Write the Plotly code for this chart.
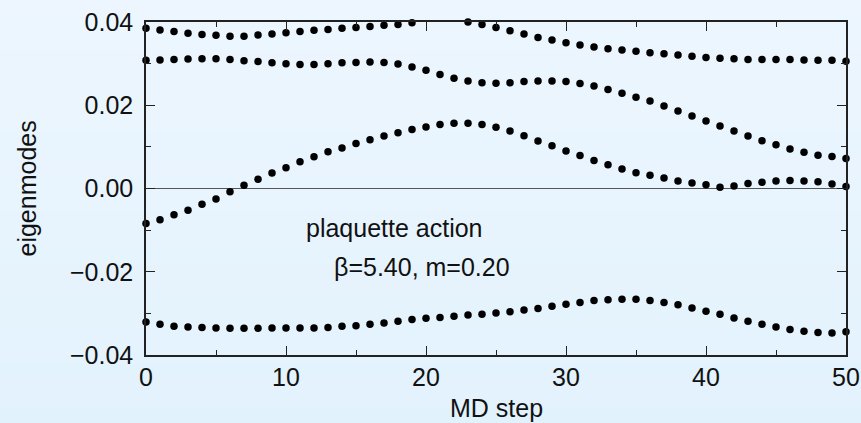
import plotly.graph_objects as go

# MD step index
md_step = list(range(51))

# Four lowest eigenmodes along the trajectory (None = above plotted range)
mode_1 = [0.0385, 0.0381, 0.0377, 0.0373, 0.0370, 0.0368, 0.0366, 0.0366, 0.0369, 0.0371,
          0.0374, 0.0377, 0.0380, 0.0382, 0.0385, 0.0387, 0.0389, 0.0392, 0.0394, 0.0398,
          None, None, None, 0.0400, 0.0394, 0.0387, 0.0379, 0.0371, 0.0363, 0.0357,
          0.0350, 0.0345, 0.0340, 0.0336, 0.0333, 0.0330, 0.0326, 0.0324, 0.0321, 0.0318,
          0.0315, 0.0313, 0.0312, 0.0310, 0.0310, 0.0310, 0.0310, 0.0309, 0.0308, 0.0308,
          0.0306]
mode_2 = [0.0308, 0.0309, 0.0310, 0.0311, 0.0312, 0.0312, 0.0310, 0.0307, 0.0305, 0.0302,
          0.0300, 0.0298, 0.0298, 0.0300, 0.0302, 0.0303, 0.0304, 0.0303, 0.0299, 0.0292,
          0.0284, 0.0274, 0.0265, 0.0258, 0.0254, 0.0253, 0.0254, 0.0257, 0.0258, 0.0258,
          0.0257, 0.0252, 0.0246, 0.0238, 0.0229, 0.0219, 0.0210, 0.0198, 0.0186, 0.0174,
          0.0162, 0.0150, 0.0138, 0.0126, 0.0115, 0.0105, 0.0095, 0.0087, 0.0080, 0.0077,
          0.0072]
mode_3 = [-0.0084, -0.0075, -0.0063, -0.0052, -0.0038, -0.0025, -0.0008, 0.0008, 0.0022, 0.0037,
          0.0050, 0.0064, 0.0076, 0.0088, 0.0097, 0.0108, 0.0117, 0.0126, 0.0134, 0.0142,
          0.0148, 0.0154, 0.0157, 0.0157, 0.0154, 0.0147, 0.0138, 0.0127, 0.0114, 0.0103,
          0.0090, 0.0079, 0.0067, 0.0057, 0.0047, 0.0038, 0.0032, 0.0025, 0.0018, 0.0013,
          0.0009, 0.0003, 0.0006, 0.0012, 0.0015, 0.0018, 0.0019, 0.0018, 0.0016, 0.0011,
          0.0005]
mode_4 = [-0.0321, -0.0326, -0.0331, -0.0333, -0.0334, -0.0335, -0.0336, -0.0336, -0.0336, -0.0335,
          -0.0335, -0.0335, -0.0335, -0.0334, -0.0331, -0.0330, -0.0326, -0.0323, -0.0319, -0.0315,
          -0.0312, -0.0310, -0.0307, -0.0304, -0.0302, -0.0299, -0.0296, -0.0292, -0.0288, -0.0283,
          -0.0278, -0.0274, -0.0269, -0.0267, -0.0266, -0.0266, -0.0269, -0.0274, -0.0279, -0.0287,
          -0.0295, -0.0302, -0.0311, -0.0319, -0.0326, -0.0333, -0.0339, -0.0343, -0.0346, -0.0347,
          -0.0344]

x_ticks = [0, 10, 20, 30, 40, 50]
x_tick_labels = ["0", "10", "20", "30", "40", "50"]
y_ticks = [-0.04, -0.02, 0.0, 0.02, 0.04]
y_tick_labels = ["\u22120.04", "\u22120.02", "0.00", "0.02", "0.04"]

FONT = "Liberation Sans, Arial, Helvetica, sans-serif"
FS = 25
INK = "#111111"
AXIS = "#222222"

W, H = 861, 423
ML, MR, MT, MB = 146, 15, 22, 68
PW, PH = W - ML - MR, H - MT - MB

fig = go.Figure()
for series in (mode_1, mode_2, mode_3, mode_4):
    fig.add_trace(go.Scatter(
        x=md_step, y=series, mode="markers",
        marker=dict(color="black", size=7.5, line=dict(width=0)),
        cliponaxis=False, showlegend=False, hoverinfo="skip",
    ))

# soft vertical gradient behind the whole figure
top_rgb = (237, 246, 254)
bot_rgb = (226, 242, 253)
n_bands = 48
y_lo = -MB / PH - 0.01
y_hi = 1 + MT / PH + 0.01
shapes = []
for i in range(n_bands):
    t = (i + 0.5) / n_bands
    c = tuple(round(bot_rgb[k] + (top_rgb[k] - bot_rgb[k]) * t) for k in range(3))
    y0 = y_lo + (y_hi - y_lo) * i / n_bands
    y1 = y_lo + (y_hi - y_lo) * (i + 1) / n_bands + 0.002
    shapes.append(dict(type="rect", xref="paper", yref="paper",
                       x0=-ML / PW - 0.01, x1=1 + MR / PW + 0.01, y0=y0, y1=y1,
                       fillcolor="rgb(%d,%d,%d)" % c, line=dict(width=0), layer="below"))

axis_common = dict(
    showline=True, linecolor=AXIS, linewidth=1.5, mirror="ticks",
    ticks="inside", ticklen=9, tickwidth=1.2, tickcolor=AXIS,
    showgrid=False,
    tickfont=dict(family=FONT, size=FS, color=INK),
)

fig.update_xaxes(
    range=[0, 50], tickvals=x_ticks, ticktext=x_tick_labels,
    minor=dict(ticks="inside", ticklen=5, dtick=5, tickcolor=AXIS, tickwidth=1.2, showgrid=False),
    zeroline=False, ticklabelstandoff=-1, **axis_common,
)
fig.update_yaxes(
    range=[-0.04, 0.04], tickvals=y_ticks, ticktext=y_tick_labels,
    minor=dict(ticks="inside", ticklen=5, dtick=0.01, tickcolor=AXIS, tickwidth=1.2, showgrid=False),
    zeroline=True, zerolinecolor="#555555", zerolinewidth=1,
    ticklabelstandoff=6, **axis_common,
)

annotations = [
    dict(text="plaquette action", x=11.3, y=-0.0095, xref="x", yref="y",
         xanchor="left", yanchor="middle", showarrow=False,
         font=dict(family=FONT, size=FS, color=INK)),
    dict(text="\u03b2=5.40, m=0.20", x=13.3, y=-0.0189, xref="x", yref="y",
         xanchor="left", yanchor="middle", showarrow=False,
         font=dict(family=FONT, size=FS, color=INK)),
    dict(text="MD step", x=0.5, y=(MT + PH - 408) / PH, xref="paper", yref="paper",
         xanchor="center", yanchor="middle", showarrow=False,
         font=dict(family=FONT, size=FS, color=INK)),
    dict(text="eigenmodes", x=(26 - ML) / PW, y=0.5, xref="paper", yref="paper",
         xanchor="center", yanchor="middle", textangle=-90, showarrow=False,
         font=dict(family=FONT, size=FS, color=INK)),
]

fig.update_layout(
    width=W, height=H,
    margin=dict(l=ML, r=MR, t=MT, b=MB, autoexpand=False),
    paper_bgcolor="rgb(232,244,253)", plot_bgcolor="rgba(0,0,0,0)",
    shapes=shapes, annotations=annotations,
)

fig.write_html("out.html")
